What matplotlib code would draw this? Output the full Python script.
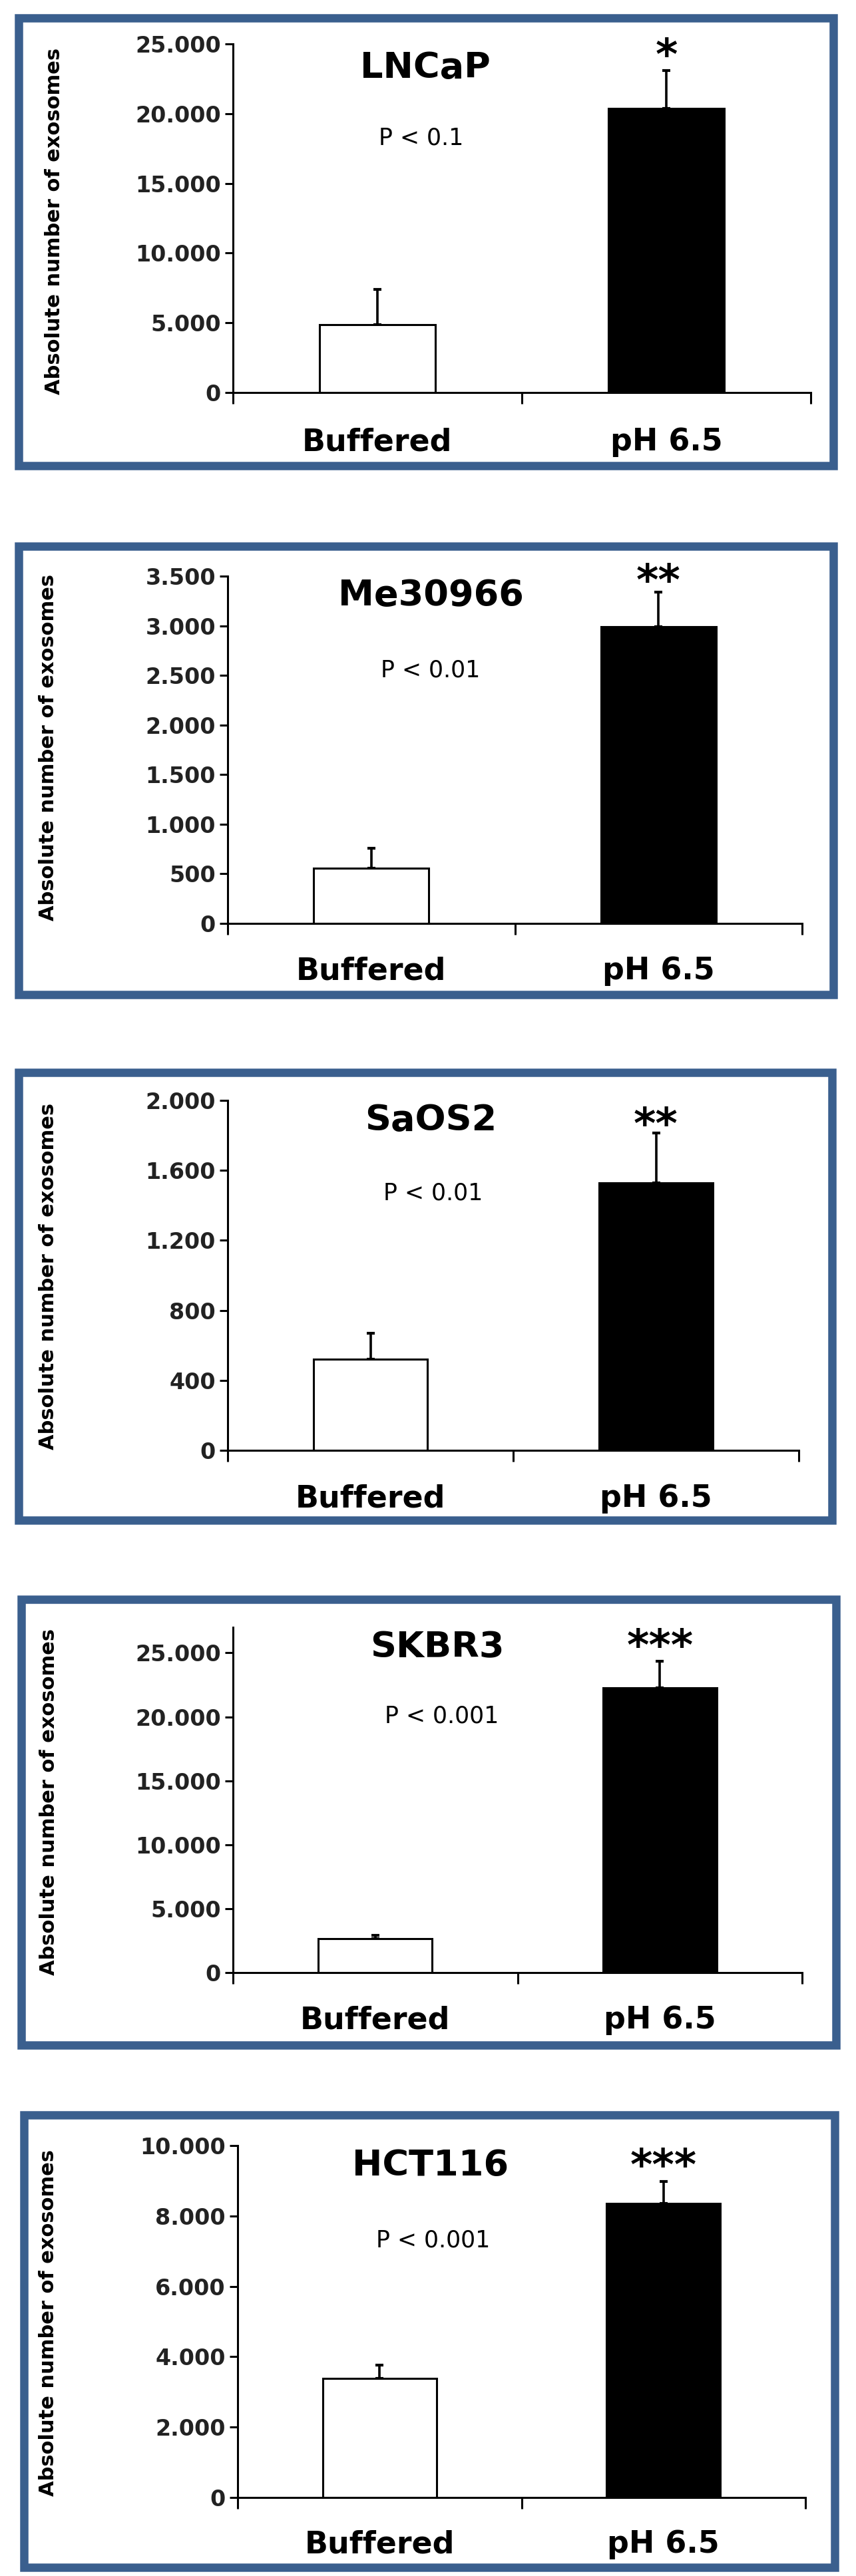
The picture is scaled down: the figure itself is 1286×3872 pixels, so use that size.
import matplotlib
matplotlib.use("Agg")
import matplotlib.pyplot as plt
import matplotlib.transforms as mtransforms
from matplotlib.patches import Rectangle

W, H = 1286, 3872

categories = ["Buffered", "pH 6.5"]
cell_lines = ["LNCaP", "Me30966", "SaOS2", "SKBR3", "HCT116"]
p_labels = ["P < 0.1", "P < 0.01", "P < 0.01", "P < 0.001", "P < 0.001"]
stars = ["*", "**", "**", "***", "***"]

# mean and upper error per condition
lncap_mean = [4850, 20350]
lncap_err = [2550, 2750]
me30966_mean = [555, 2990]
me30966_err = [200, 350]
saos2_mean = [520, 1530]
saos2_err = [150, 285]
skbr3_mean = [2650, 22250]
skbr3_err = [250, 2075]
hct116_mean = [3380, 8350]
hct116_err = [380, 620]

y_ticks = [
    [0, 5000, 10000, 15000, 20000, 25000],
    [0, 500, 1000, 1500, 2000, 2500, 3000, 3500],
    [0, 400, 800, 1200, 1600, 2000],
    [0, 5000, 10000, 15000, 20000, 25000],
    [0, 2000, 4000, 6000, 8000, 10000],
]
y_max = [25000, 3500, 2000, 27000, 10000]

means = [lncap_mean, me30966_mean, saos2_mean, skbr3_mean, hct116_mean]
errs = [lncap_err, me30966_err, saos2_err, skbr3_err, hct116_err]

# layout in pixels: axes (left, right, top, bottom), border box, text anchors
axes_px = [(350, 1218, 66, 590), (342, 1205, 866, 1388), (342, 1200, 1654, 2180),
           (350, 1205, 2446, 2965), (357, 1210, 3225, 3754)]
box_px = [(28, 27, 1252, 700), (28, 821, 1252, 1495), (28, 1612, 1250, 2285),
          (32, 2404, 1256, 3074), (36, 3179, 1254, 3859)]
title_px = [(639, 117), (647, 910), (647, 1699), (657, 2491), (647, 3270)]
ptext_px = [(633, 217), (647, 1017), (651, 1804), (664, 2590), (651, 3377)]
star_top_px = [55, 845, 1662, 2446, 3227]
ylabel_px = [(82, 332), (73, 1123), (73, 1918), (74, 2708), (73, 3491)]
xlabel_base_px = [677, 1472, 2265, 3049, 3837]


def fx(x):
    return x / W


def fy(y):
    return 1 - y / H


fig = plt.figure(figsize=(W / 100, H / 100), dpi=100)
fig.patch.set_facecolor("white")

for i in range(5):
    x0, y0, x1, y1 = box_px[i]
    fig.patches.append(Rectangle((fx(x0), fy(y1)), fx(x1) - fx(x0), fy(y0) - fy(y1),
                                 transform=fig.transFigure, fill=False,
                                 edgecolor="#3a5f8e", linewidth=9))

    l, r, t, b = axes_px[i]
    ax = fig.add_axes([fx(l), fy(b), fx(r) - fx(l), fy(t) - fy(b)])
    xs = [0.5, 1.5]
    ax.bar(xs, means[i], width=0.4, color=["white", "black"],
           edgecolor="black", linewidth=2.2, zorder=2)
    ax.errorbar(xs, means[i], yerr=[[0, 0], errs[i]], fmt="none",
                ecolor="black", elinewidth=2.6, capsize=4, capthick=3, zorder=1)
    ax.set_xlim(0, 2)
    ax.set_ylim(0, y_max[i])
    ax.set_yticks(y_ticks[i])
    ax.set_yticklabels([f"{v:,}".replace(",", ".") for v in y_ticks[i]],
                       fontsize=24, fontweight="bold", color="#222222")
    ax.set_xticks([0, 1, 2])
    ax.set_xticklabels([])
    for s in ["top", "right"]:
        ax.spines[s].set_visible(False)
    for s in ["left", "bottom"]:
        ax.spines[s].set_linewidth(2.2)
    ax.tick_params(axis="y", direction="out", length=9, width=2.2, pad=4)
    ax.tick_params(axis="x", direction="out", length=12, width=2.2)

    trans = mtransforms.blended_transform_factory(ax.transData, fig.transFigure)
    for xc, lab in zip(xs, categories):
        ax.text(xc, fy(xlabel_base_px[i]), lab, transform=trans, ha="center",
                va="baseline", fontsize=33, fontweight="bold")
    ax.text(1.5, fy(star_top_px[i]), stars[i], transform=trans, ha="center",
            va="top", fontsize=46, fontweight="bold", clip_on=False)

    fig.text(fx(title_px[i][0]), fy(title_px[i][1]), cell_lines[i], ha="center",
             va="baseline", fontsize=39, fontweight="bold")
    fig.text(fx(ptext_px[i][0]), fy(ptext_px[i][1]), p_labels[i], ha="center",
             va="baseline", fontsize=25)
    fig.text(fx(ylabel_px[i][0]), fy(ylabel_px[i][1]), "Absolute number of exosomes",
             ha="center", va="center", rotation=90, fontsize=22, fontweight="bold")

fig.savefig("out.png", dpi=100, facecolor="white")
